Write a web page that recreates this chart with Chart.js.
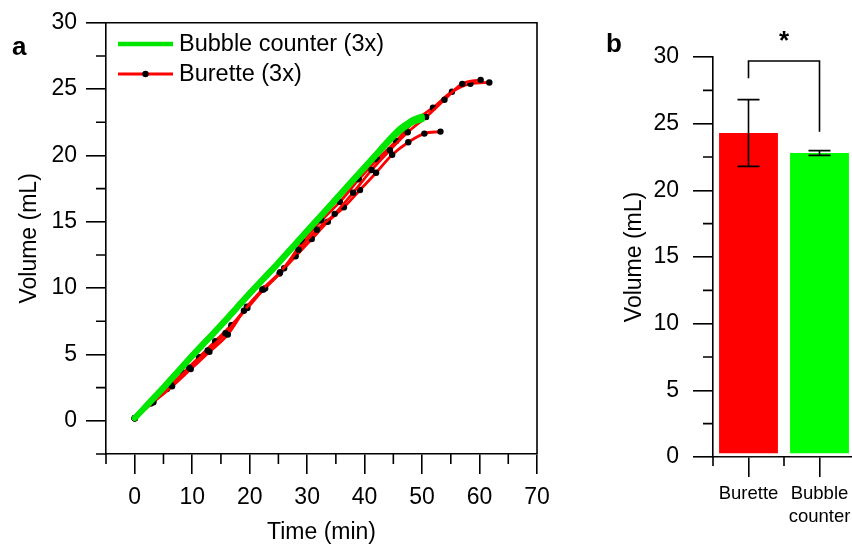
<!DOCTYPE html>
<html><head><meta charset="utf-8">
<script src="https://cdn.jsdelivr.net/npm/chart.js@4/dist/chart.umd.min.js"></script>
<style>
html,body{margin:0;padding:0;background:#fff;overflow:hidden;width:852px;height:544px;position:relative;}
#ca{position:absolute;left:0;top:0;}
#cb{position:absolute;left:560px;top:0;}
</style></head><body>
<canvas id="ca" width="570" height="544"></canvas>
<canvas id="cb" width="300" height="544"></canvas>
<script>
// ---------- Panel a data ----------
const bubbleLabel = 'Bubble counter (3x)';
const buretteLabel = 'Burette (3x)';

const bubbleTime = [0, 2.5, 5, 7.5, 10, 12.5, 15, 17.5, 20, 22.5, 25, 27.5, 30, 32.5, 35, 37.5, 40, 42.5, 45, 46.5, 48, 49, 50];
const bubbleVol1 = [0.2, 1.35, 2.5, 3.7, 4.9, 6.05, 7.2, 8.4, 9.6, 10.75, 11.9, 13.1, 14.3, 15.5, 16.7, 17.9, 19.1, 20.3, 21.5, 22.1, 22.6, 22.8, 22.95];
const bubbleVol2 = [0.2, 1.3, 2.45, 3.65, 4.85, 6.0, 7.15, 8.35, 9.55, 10.7, 11.85, 13.05, 14.25, 15.45, 16.65, 17.85, 19.05, 20.25, 21.4, 21.95, 22.4, 22.6, 22.7];
const bubbleVol3 = [0.2, 1.4, 2.55, 3.75, 4.95, 6.1, 7.25, 8.45, 9.65, 10.8, 11.95, 13.15, 14.35, 15.55, 16.75, 17.95, 19.15, 20.35, 21.55, 22.15, 22.55, 22.72, 22.8];

const buretteTimeA = [0, 3.2, 6.3, 9.5, 12.7, 15.8, 19.0, 22.2, 25.3, 28.5, 31.7, 34.8, 38.0, 41.2, 44.4, 47.5, 50.7, 53.9, 57.0, 60.2];
const buretteVolA  = [0.2, 1.5, 2.7, 4.0, 5.3, 6.6, 8.3, 9.9, 11.2, 12.9, 14.4, 15.6, 17.2, 18.9, 20.4, 21.75, 22.9, 24.2, 25.4, 25.7];
const buretteTimeB = [0, 3.25, 6.5, 9.75, 13.0, 16.2, 19.5, 22.7, 26.0, 29.2, 32.5, 35.7, 39.0, 42.2, 45.5, 48.7, 51.9, 55.2, 58.4, 61.7];
const buretteVolB  = [0.2, 1.4, 2.6, 3.9, 5.2, 6.5, 8.6, 10.0, 11.5, 13.5, 15.1, 16.5, 18.2, 19.7, 21.1, 22.6, 23.6, 24.8, 25.4, 25.5];
const buretteTimeC = [0, 2.8, 5.6, 8.4, 11.2, 14.0, 16.8, 19.6, 22.4, 25.2, 28.0, 30.8, 33.6, 36.4, 39.2, 42.0, 44.8, 47.6, 50.4, 53.2];
const buretteVolC  = [0.2, 1.3, 2.4, 3.6, 4.8, 6.0, 7.2, 8.5, 9.9, 11.1, 12.4, 13.7, 15.0, 16.1, 17.4, 18.7, 20.05, 21.0, 21.65, 21.8];

const lineXTicks = [0, 10, 20, 30, 40, 50, 60, 70];
const lineXMinor = [-5, 5, 15, 25, 35, 45, 55, 65];
const lineYTicks = [0, 5, 10, 15, 20, 25, 30];
const lineYMinor = [-2.5, 2.5, 7.5, 12.5, 17.5, 22.5, 27.5];

// ---------- Panel b data ----------
const barCategories = ['Burette', ['Bubble', 'counter']];
const barMeans = [24.3, 22.8];
const barErrors = [2.5, 0.18];
const barColors = ['#ff0000', '#00ff00'];
const barYTicks = [0, 5, 10, 15, 20, 25, 30];
const barYMinor = [2.5, 7.5, 12.5, 17.5, 22.5, 27.5];
const barXMinor = [-0.5, 0.5, 1.5];

const FONT = "'Liberation Sans', Arial, sans-serif";
const RED = '#ff0000';
const GREEN = '#00e600';
const AXW = 1.6;

const toXY = (xs, ys) => xs.map((x, i) => ({x: x, y: ys[i]}));

function drawMinor(chart, id, values, len) {
  const s = chart.scales[id], ctx = chart.ctx;
  ctx.save();
  ctx.strokeStyle = '#000'; ctx.lineWidth = AXW;
  ctx.beginPath();
  values.forEach(v => {
    const p = s.getPixelForValue(v);
    if (s.isHorizontal()) { ctx.moveTo(p, s.top); ctx.lineTo(p, s.top + len); }
    else { ctx.moveTo(s.right, p); ctx.lineTo(s.right - len, p); }
  });
  ctx.stroke();
  ctx.restore();
}

const buretteSets = [[buretteTimeA, buretteVolA], [buretteTimeB, buretteVolB], [buretteTimeC, buretteVolC]].map(([t, v]) => ({
  label: buretteLabel, data: toXY(t, v), showLine: true,
  borderColor: RED, borderWidth: 2.8, cubicInterpolationMode: 'monotone',
  pointRadius: 3.2, pointHoverRadius: 3.2, pointBackgroundColor: '#000', pointBorderWidth: 0,
  order: 1
}));
const bubbleSets = [bubbleVol1, bubbleVol2, bubbleVol3].map(v => ({
  label: bubbleLabel, data: toXY(bubbleTime, v), showLine: true,
  borderColor: GREEN, borderWidth: 5.5, cubicInterpolationMode: 'monotone',
  pointRadius: 0, pointHoverRadius: 0, borderCapStyle: 'round', borderJoinStyle: 'round',
  order: 0
}));

const panelAPlugin = {
  id: 'panelA',
  afterDraw(chart) {
    const ctx = chart.ctx, a = chart.chartArea;
    drawMinor(chart, 'x', lineXMinor, 10);
    drawMinor(chart, 'y', lineYMinor, 10);
    ctx.save();
    ctx.strokeStyle = '#000'; ctx.lineWidth = AXW;
    ctx.beginPath();
    ctx.moveTo(a.left, a.top); ctx.lineTo(a.right, a.top); ctx.lineTo(a.right, a.bottom);
    ctx.stroke();
    // legend
    const entries = [
      {ds: bubbleSets[0], y: 44, dot: false},
      {ds: buretteSets[0], y: 74, dot: true}
    ];
    const lx0 = a.left + 12, lx1 = a.left + 67;
    entries.forEach(e => {
      ctx.strokeStyle = e.ds.borderColor;
      ctx.lineWidth = e.dot ? 2.8 : 4.5;
      ctx.beginPath(); ctx.moveTo(lx0, e.y); ctx.lineTo(lx1, e.y); ctx.stroke();
      if (e.dot) {
        ctx.fillStyle = '#000';
        ctx.beginPath(); ctx.arc((lx0 + lx1) / 2, e.y, 3.2, 0, Math.PI * 2); ctx.fill();
      }
      ctx.fillStyle = '#000';
      ctx.font = '23.5px ' + FONT;
      ctx.textBaseline = 'middle'; ctx.textAlign = 'left';
      ctx.fillText(e.ds.label, lx1 + 6, e.y + 1);
    });
    // panel letter
    ctx.font = 'bold 26px ' + FONT;
    ctx.textBaseline = 'alphabetic';
    ctx.fillText('a', 12, 55);
    ctx.restore();
  }
};

new Chart(document.getElementById('ca'), {
  type: 'scatter',
  data: {datasets: buretteSets.concat(bubbleSets)},
  options: {
    responsive: false, animation: false,
    layout: {padding: {left: 0, top: 22, right: 33, bottom: 0}},
    plugins: {legend: {display: false}, tooltip: {enabled: false}},
    scales: {
      x: {
        type: 'linear', min: -5, max: 70,
        afterBuildTicks: s => { s.ticks = lineXTicks.map(v => ({value: v})); },
        afterFit: s => { s.height = 90; },
        grid: {drawOnChartArea: false, drawTicks: true, tickLength: 20, color: '#000', lineWidth: AXW},
        border: {display: true, color: '#000', width: AXW},
        ticks: {font: {family: FONT, size: 23, lineHeight: 1.2}, color: '#000', padding: 10, maxRotation: 0, autoSkip: false},
        title: {display: true, text: 'Time (min)', font: {family: FONT, size: 23, lineHeight: 1}, color: '#000', padding: {top: 0, bottom: 0}}
      },
      y: {
        type: 'linear', min: -2.5, max: 30,
        afterBuildTicks: s => { s.ticks = lineYTicks.map(v => ({value: v})); },
        afterFit: s => { s.width = 106; },
        grid: {drawOnChartArea: false, drawTicks: true, tickLength: 20, color: '#000', lineWidth: AXW},
        border: {display: true, color: '#000', width: AXW},
        ticks: {font: {family: FONT, size: 23, lineHeight: 1.2}, color: '#000', padding: 9},
        title: {display: true, text: 'Volume (mL)', font: {family: FONT, size: 23, lineHeight: 1}, color: '#000', padding: {top: 18.5, bottom: 0}}
      }
    }
  },
  plugins: [panelAPlugin]
});

const panelBPlugin = {
  id: 'panelB',
  afterDraw(chart) {
    const ctx = chart.ctx, xs = chart.scales.x, ys = chart.scales.y;
    drawMinor(chart, 'y', barYMinor, 10);
    drawMinor(chart, 'x', barXMinor, 9);
    ctx.save();
    ctx.strokeStyle = '#000'; ctx.lineWidth = AXW;
    // error bars
    barMeans.forEach((m, i) => {
      const x = xs.getPixelForValue(i);
      const yt = ys.getPixelForValue(m + barErrors[i]);
      const yb = ys.getPixelForValue(m - barErrors[i]);
      const cw = 11;
      ctx.beginPath();
      ctx.moveTo(x, yt); ctx.lineTo(x, yb);
      ctx.moveTo(x - cw, yt); ctx.lineTo(x + cw, yt);
      ctx.moveTo(x - cw, yb); ctx.lineTo(x + cw, yb);
      ctx.stroke();
    });
    // significance bracket
    const x0 = xs.getPixelForValue(0), x1 = xs.getPixelForValue(1);
    const yTop = ys.getPixelForValue(29.7);
    ctx.beginPath();
    ctx.moveTo(x0, ys.getPixelForValue(28.4));
    ctx.lineTo(x0, yTop); ctx.lineTo(x1, yTop);
    ctx.lineTo(x1, ys.getPixelForValue(24.4));
    ctx.stroke();
    ctx.fillStyle = '#000';
    ctx.font = 'bold 26px ' + FONT;
    ctx.textAlign = 'center'; ctx.textBaseline = 'alphabetic';
    ctx.fillText('*', (x0 + x1) / 2, 49);
    ctx.textAlign = 'left';
    ctx.fillText('b', 46, 52);
    ctx.restore();
  }
};

new Chart(document.getElementById('cb'), {
  type: 'bar',
  data: {
    labels: barCategories,
    datasets: [{
      data: barMeans, backgroundColor: barColors,
      barPercentage: 0.83, categoryPercentage: 1,
      borderSkipped: false, borderWidth: {top: 0, right: 0, bottom: 3, left: 0}, borderColor: '#fff'
    }]
  },
  options: {
    responsive: false, animation: false,
    layout: {padding: {left: 0, top: 57, right: 5, bottom: 0}},
    plugins: {legend: {display: false}, tooltip: {enabled: false}},
    scales: {
      x: {
        offset: true,
        afterFit: s => { s.height = 87; },
        grid: {offset: false, drawOnChartArea: false, drawTicks: true, tickLength: 20, color: '#000', lineWidth: AXW},
        border: {display: true, color: '#000', width: AXW},
        ticks: {font: {family: FONT, size: 18.5, lineHeight: 1.25}, color: '#000', padding: 5, maxRotation: 0, autoSkip: false}
      },
      y: {
        min: 0, max: 30,
        afterBuildTicks: s => { s.ticks = barYTicks.map(v => ({value: v})); },
        afterFit: s => { s.width = 153; },
        grid: {drawOnChartArea: false, drawTicks: true, tickLength: 20, color: '#000', lineWidth: AXW},
        border: {display: true, color: '#000', width: AXW},
        ticks: {font: {family: FONT, size: 23, lineHeight: 1.2}, color: '#000', padding: 14},
        title: {display: true, text: 'Volume (mL)', font: {family: FONT, size: 23, lineHeight: 1}, color: '#000', padding: {top: 63.5, bottom: 0}}
      }
    }
  },
  plugins: [panelBPlugin]
});
</script>
</body></html>
